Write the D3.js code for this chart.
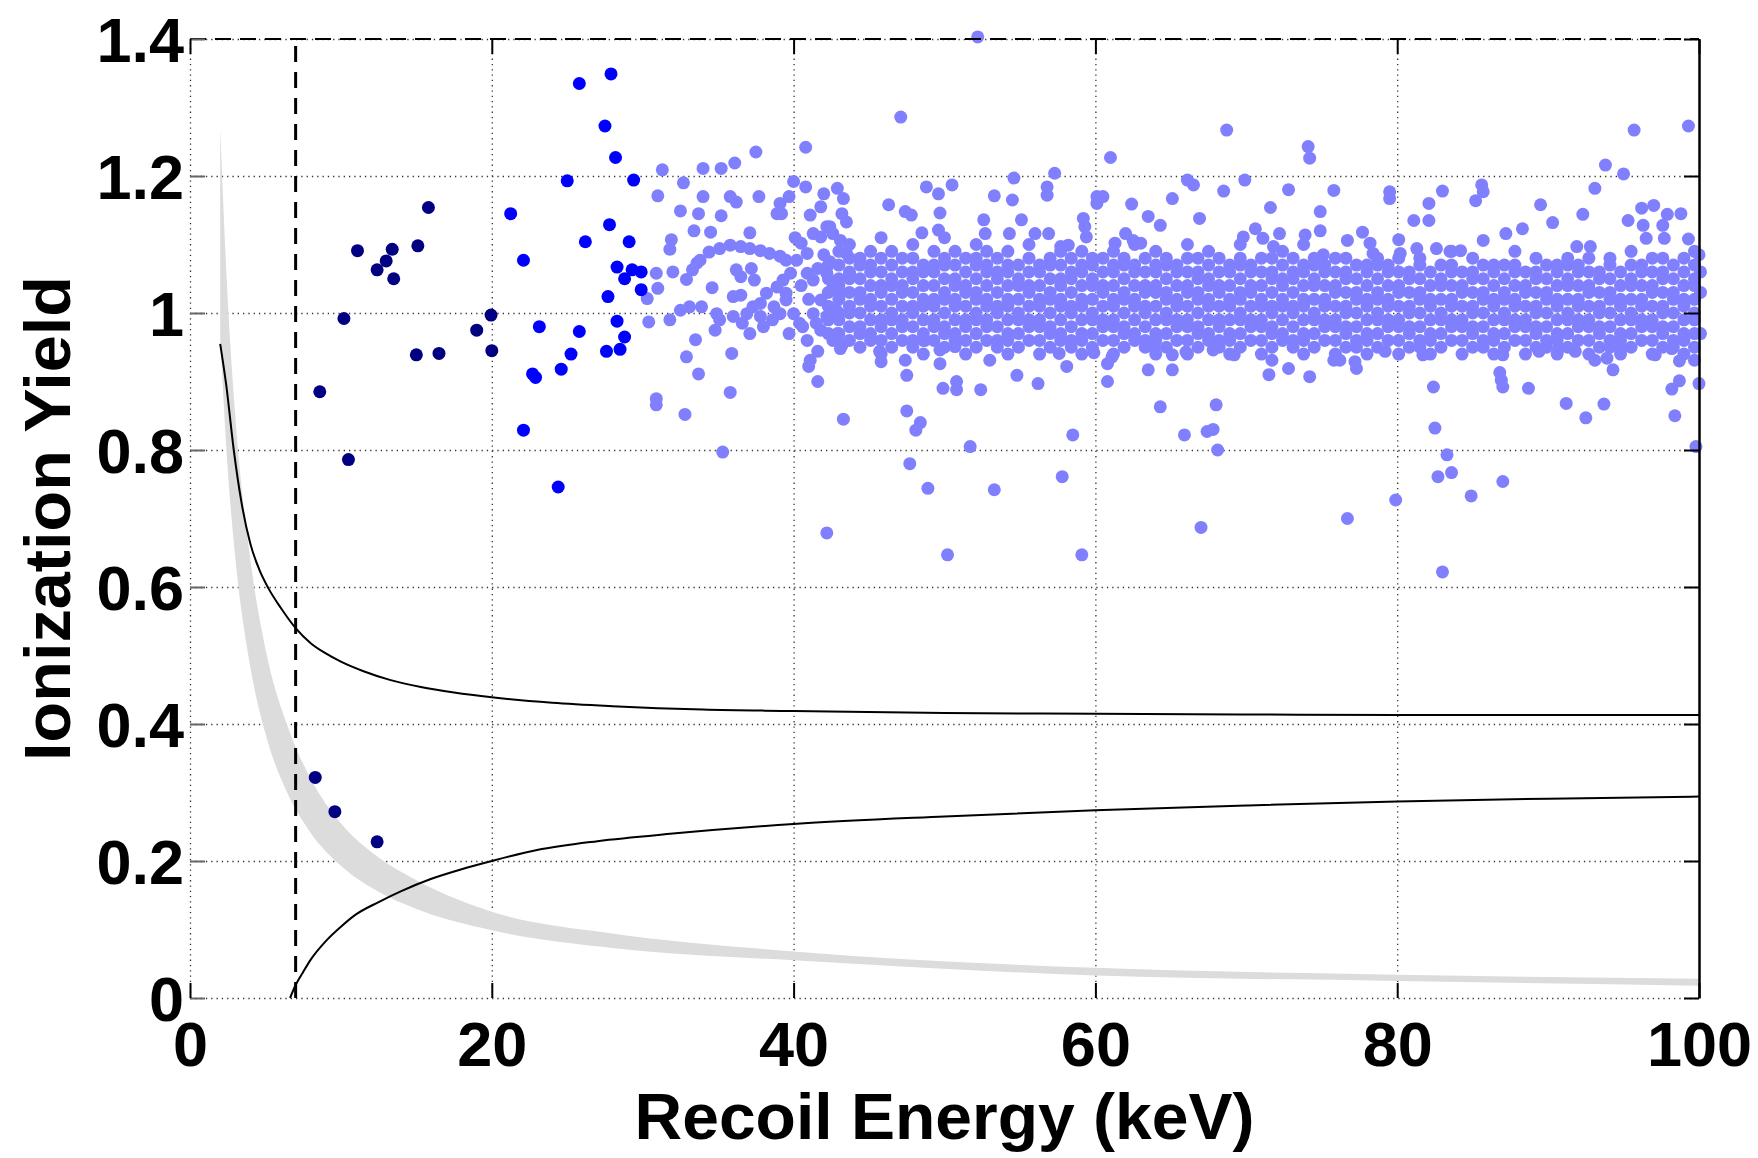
<html>
<head>
<script src="https://d3js.org/d3.v7.min.js"></script>
<style>
body { margin: 0; background: white; }
text { font-family: "Liberation Sans", Arial, Helvetica, sans-serif; font-weight: bold; }
</style>
</head>
<body>
<div id="chart"></div>
<script>

var xTicks = [0, 20, 40, 60, 80, 100]
var yTicks = [0, 0.2, 0.4, 0.6, 0.8, 1, 1.2, 1.4]
var yTickLabels = ['0', '0.2', '0.4', '0.6', '0.8', '1', '1.2', '1.4']
var thresholdE = 7.0

// events below 20 keV (dark) and 20-30 keV (blue), [energy, yield]
var navyPts = [
  [11.1,1.091],[13.4,1.093],[13.0,1.076],[12.4,1.063],[13.5,1.050],[15.1,1.098],[15.8,1.154],
  [10.2,0.992],[8.6,0.885],[10.5,0.786],[15.0,0.939],[16.5,0.941],[19.0,0.975],[19.95,0.997],
  [20.0,0.945],[8.3,0.322],[9.6,0.272],[12.4,0.228]
]
var bluePts = [
  [27.9,1.349],[25.8,1.335],[27.5,1.273],[28.2,1.227],[25.0,1.193],[29.4,1.194],[21.25,1.145],
  [27.8,1.129],[26.2,1.104],[29.1,1.104],[22.1,1.077],[28.3,1.067],[29.3,1.063],[29.9,1.060],
  [28.8,1.050],[29.9,1.034],[27.7,1.024],[28.3,0.988],[23.15,0.980],[25.8,0.973],[28.8,0.965],
  [28.5,0.947],[27.6,0.944],[25.25,0.940],[24.6,0.918],[22.7,0.911],[22.9,0.906],[22.1,0.829],
  [24.4,0.746]
]
// scattered events above 30 keV, [energy, yield]
var lightPts = [
  [47.1,1.286],[40.8,1.242],[37.5,1.235],[36.1,1.219],[35.2,1.211],[34.0,1.211],[31.3,1.209],
  [32.7,1.190],[31.0,1.171],[34.0,1.170],[35.8,1.170],[36.2,1.162],[37.7,1.170],[32.5,1.149],
  [33.7,1.145],[35.2,1.142],[33.4,1.120],[34.5,1.118],[37.1,1.117],[31.9,1.107],[31.8,1.093],
  [30.9,1.058],[32.0,1.060],[31.0,1.036],[30.3,1.021],[32.9,1.049],[34.6,1.037],[30.4,0.987],
  [31.8,0.990],[33.5,0.961],[32.9,0.936],[33.7,0.911],[35.9,0.941],[35.8,0.884],[30.9,0.875],
  [30.9,0.866],[32.8,0.852],[35.3,0.797],[39.7,0.970],[40.6,0.980],[41.0,0.922],[41.6,0.900],
  [43.3,0.845],[47.5,0.857],[48.4,0.840],[48.1,0.829],[47.7,0.780],[48.9,0.744],[42.2,0.679],
  [51.7,0.805],[49.9,0.890],[50.8,0.900],[50.8,0.888],[47.5,0.909],[47.4,0.931],[49.7,0.926],
  [49.7,0.946],[50.7,0.951],[48.7,0.960],[45.8,0.929],[45.7,0.944],[43.2,0.953],[41.6,0.944],
  [41.1,0.931],[48.8,1.184],[49.6,1.174],[50.5,1.187],[49.7,1.146],[46.3,1.158],[47.4,1.148],
  [47.8,1.143],[48.5,1.117],[49.6,1.121],[42.9,1.182],[43.3,1.167],[42.0,1.174],[40.0,1.192],
  [40.8,1.184],[39.7,1.170],[39.1,1.160],[39.2,1.145],[41.1,1.143],[41.8,1.155],[43.2,1.145],
  [42.4,1.126],[43.5,1.133],[33.8,1.077],[34.4,1.089],[35.1,1.094],[35.8,1.099],[36.5,1.097],
  [37.1,1.094],[37.8,1.091],[38.4,1.087],[39.1,1.083],[39.5,1.077],[33.3,1.063],[33.6,1.073],
  [36.2,1.063],[37.2,1.065],[37.4,1.048],[36.5,1.053],[36.0,1.024],[36.5,1.026],[37.3,1.009],
  [37.8,1.014],[38.2,1.029],[38.9,1.038],[39.3,1.048],[39.8,1.058],[39.5,1.029],[38.7,1.009],
  [39.1,0.999],[40.0,0.999],[39.5,1.019],[32.5,1.004],[33.1,1.009],[33.9,1.009],[34.9,0.999],
  [35.1,0.990],[36.0,0.995],[36.6,0.985],[37.1,0.970],[37.8,0.995],[38.0,0.980],[38.6,0.990],
  [36.9,0.999],[34.8,0.975],[38.9,1.145],[40.1,1.110],[40.5,1.102],[40.9,1.087],[41.3,1.116],
  [41.8,1.111],[42.2,1.126],[42.6,1.116],[43.1,1.106],[43.5,1.087],[43.7,1.058],[40.2,1.077],
  [40.9,1.058],[41.3,1.048],[41.8,1.019],[42.2,1.058],[42.6,1.038],[43.1,1.029],[41.3,0.999],
  [42.2,0.995],[42.9,0.970],[41.8,0.975],[42.6,0.960],[40.9,0.960],[43.1,0.948],[40.5,1.040],
  [41.0,1.020],[41.6,1.065],[42.0,1.085],[42.8,1.005],[40.4,0.985],[41.5,0.985],[42.4,1.075],
  [68.7,1.267],[74.1,1.243],[74.2,1.226],[61.0,1.227],[57.3,1.204],[54.6,1.197],[56.8,1.184],
  [56.8,1.172],[53.3,1.171],[54.5,1.165],[60.1,1.170],[60.5,1.170],[60.1,1.160],[62.4,1.159],
  [65.1,1.167],[66.1,1.194],[66.5,1.187],[68.5,1.178],[69.9,1.194],[72.8,1.180],[75.8,1.179],
  [71.6,1.154],[74.9,1.148],[66.9,1.138],[63.5,1.141],[64.3,1.128],[55.1,1.136],[52.6,1.136],
  [52.7,1.116],[59.2,1.138],[59.3,1.126],[59.4,1.111],[54.3,1.116],[56.0,1.116],[56.9,1.116],
  [57.7,1.097],[58.2,1.099],[61.3,1.102],[62.0,1.116],[62.5,1.106],[63.0,1.102],[70.6,1.123],
  [71.1,1.109],[71.8,1.097],[69.8,1.111],[73.9,1.114],[74.9,1.120],[75.1,1.085],[72.2,1.116],
  [53.0,0.931],[52.4,0.888],[54.8,0.909],[56.2,0.897],[57.6,0.941],[58.1,0.922],[59.9,0.942],
  [60.8,0.900],[61.1,0.936],[60.8,0.926],[63.5,0.917],[65.1,0.917],[65.1,0.939],[64.3,0.863],
  [68.0,0.866],[58.5,0.822],[65.9,0.822],[67.4,0.827],[67.8,0.830],[68.1,0.800],[57.8,0.761],
  [53.3,0.742],[67.0,0.687],[69.2,0.939],[71.5,0.910],[72.8,0.919],[74.2,0.907],[71.7,0.931],
  [75.8,0.931],[63.9,0.951],[66.0,0.943],[67.8,0.946],[59.1,0.647],[50.2,0.647],[83.0,0.622],
  [52.2,1.403],[95.7,1.267],[99.3,1.273],[93.8,1.216],[95.0,1.203],[93.1,1.182],[85.6,1.187],
  [85.7,1.177],[85.2,1.164],[83.0,1.178],[79.5,1.177],[79.5,1.167],[82.1,1.160],[82.1,1.135],
  [81.1,1.135],[89.5,1.158],[90.3,1.132],[92.3,1.144],[95.3,1.135],[96.2,1.153],[97.0,1.157],
  [97.9,1.144],[98.8,1.145],[96.3,1.128],[96.5,1.109],[97.6,1.128],[97.7,1.109],[99.3,1.108],
  [88.3,1.123],[87.2,1.116],[80.1,1.107],[77.7,1.118],[76.7,1.106],[78.2,1.102],[78.4,1.087],
  [81.3,1.094],[82.6,1.094],[83.5,1.090],[84.2,1.091],[85.7,1.106],[91.9,1.097],[92.8,1.097],
  [80.2,1.087],[76.2,0.931],[77.2,0.929],[77.3,0.919],[79.2,0.944],[81.7,0.939],[86.8,0.913],
  [86.9,0.902],[87.0,0.892],[82.4,0.892],[88.7,0.890],[91.2,0.868],[92.5,0.847],[93.7,0.867],
  [82.5,0.832],[83.3,0.793],[82.7,0.761],[83.6,0.767],[87.0,0.754],[84.9,0.733],[79.9,0.727],
  [76.7,0.700],[98.4,0.850],[98.2,0.889],[98.7,0.901],[100.0,0.897],[99.8,0.805],[93.1,0.931],
  [93.9,0.934],[94.3,0.917],[94.8,0.948],[97.1,0.939],[98.2,0.948],[98.7,0.930],[99.7,0.931],
  [89.4,0.944],[90.7,0.948],[91.8,0.944],[87.0,0.939],[100.1,1.060],[100.1,1.030],[100.1,0.970],
  [100.0,1.085]
]
// dense band above 42 keV: "energy: yields in hundredths"
var lightBand = [
  "42.3: 97 99 101 103 105 107", "43.0: 97 99 100 102 104 105 107 109",
  "43.7: 96 98 100 101 103 105 106 108 110",
  "44.4: 95 97 98 100 102 103 105 107 108", "45.1: 96 97 99 101 102 104 106 107 109",
  "45.8: 94 96 98 99 101 103 104 106 108 111", "46.5: 95 97 99 100 102 104 105 107 109",
  "47.2: 96 98 99 101 103 104 106 108", "47.9: 95 96 98 100 101 103 105 106 108 110",
  "48.6: 94 96 97 99 101 102 104 106 107", "49.3: 96 98 99 101 102 104 106 107 109",
  "50.0: 95 97 98 100 102 103 105 107 108 111", "50.7: 96 97 99 101 102 104 105 107 109",
  "51.4: 94 96 98 99 101 103 104 106 108", "52.1: 95 97 99 100 102 103 105 107 108 110",
  "52.8: 96 98 99 101 102 104 106 107 109", "53.5: 95 96 98 100 101 103 105 106 108",
  "54.2: 94 96 97 99 101 102 104 106 107 109", "54.9: 95 97 99 100 102 104 105 107",
  "55.6: 96 98 99 101 103 104 106 108 110", "56.3: 94 96 98 99 101 102 104 106 107",
  "57.0: 95 97 98 100 102 103 105 107 108", "57.7: 96 97 99 101 102 104 105 107 109",
  "58.4: 95 96 98 100 101 103 105 106 108", "59.1: 94 96 97 99 101 102 104 106 107 109",
  "59.8: 95 97 99 100 102 104 105 107 108", "60.5: 96 98 99 101 103 104 106 108",
  "61.2: 94 96 98 99 101 102 104 106 107 109", "61.9: 95 97 98 100 102 103 105 107 108",
  "62.6: 96 97 99 101 102 104 106 107 110", "63.3: 95 96 98 100 101 103 104 106 108",
  "64.0: 94 96 97 99 101 103 104 106 107 109", "64.7: 95 97 99 100 102 103 105 107 108",
  "65.4: 96 98 99 101 102 104 106 107", "66.1: 94 96 98 99 101 103 104 106 108 110",
  "66.8: 95 97 98 100 102 103 105 106 108", "67.5: 96 97 99 101 102 104 105 107 109",
  "68.2: 95 96 98 99 101 103 104 106 108", "68.9: 94 96 97 99 101 102 104 106 107",
  "69.6: 95 97 99 100 102 103 105 107 108 110", "70.3: 96 98 99 101 103 104 106 107",
  "71.0: 94 96 98 99 101 102 104 106 108", "71.7: 95 97 98 100 101 103 105 106 108",
  "72.4: 96 97 99 101 102 104 105 107 109", "73.1: 95 96 98 100 101 103 105 106 108",
  "73.8: 94 96 97 99 101 102 104 106 107 110", "74.5: 95 97 99 100 102 104 105 107 108",
  "75.2: 96 98 99 101 102 104 106 107", "75.9: 94 96 98 99 101 103 104 106 108",
  "76.6: 95 97 98 100 101 103 105 106 108", "77.3: 95 96 98 100 102 103 105 107",
  "78.0: 94 96 97 99 101 102 104 106 107", "78.7: 95 97 99 100 102 103 105 107 108",
  "79.4: 96 98 99 101 102 104 106 107", "80.1: 94 96 98 99 101 103 104 106 108",
  "80.8: 95 97 98 100 101 103 105 106", "81.5: 95 96 98 100 102 103 105 107 108",
  "82.2: 94 96 97 99 101 102 104 106", "82.9: 95 97 99 100 102 104 105 107",
  "83.6: 96 98 99 101 102 104 106 107 109", "84.3: 94 96 98 99 101 103 104 106",
  "85.0: 95 97 98 100 101 103 105 106 108", "85.7: 95 96 98 100 102 103 105 107",
  "86.4: 94 96 97 99 101 102 104 106 107", "87.1: 95 97 99 100 102 103 105 107",
  "87.8: 96 98 99 101 102 104 106 107 109", "88.5: 94 96 98 99 101 103 104 106",
  "89.2: 95 97 98 100 101 103 105 106 108", "89.9: 95 96 98 100 102 103 105 107",
  "90.6: 94 96 97 99 101 102 104 106 107", "91.3: 95 97 99 100 102 104 105 107 108",
  "92.0: 96 98 99 101 102 104 106 107", "92.7: 94 96 98 99 101 103 104 106 108",
  "93.4: 95 97 98 100 101 103 105 106", "94.1: 95 96 98 100 102 103 105 107 108",
  "94.8: 94 96 97 99 101 102 104 106", "95.5: 95 97 99 100 102 104 105 107 109",
  "96.2: 96 98 99 101 102 104 106 107", "96.9: 94 96 98 99 101 103 104 106 108",
  "97.6: 95 97 98 100 101 103 105 106 108", "98.3: 95 96 98 100 102 103 105 107",
  "99.0: 94 96 97 99 101 102 104 106 108", "99.7: 95 97 99 100 102 104 105 107 109"
]

// curves
var upperE = [2.0, 2.4, 2.9, 3.4, 4.0, 4.6, 5.2, 6.0, 7.0, 8.0, 9.0, 10, 11.5, 13.3, 15.3, 17.5, 20, 24, 28, 34, 40, 50, 60, 70, 80, 100]
var upperY = [0.955, 0.895, 0.80, 0.725, 0.663, 0.625, 0.598, 0.570, 0.540, 0.518, 0.503, 0.491, 0.477, 0.464, 0.454, 0.446, 0.439, 0.431, 0.426, 0.421, 0.419, 0.416, 0.415, 0.414, 0.413, 0.413]
var lowerE = [6.63, 7.0, 7.5, 8.0, 9.0, 10, 11, 12.5, 14, 16, 18, 20, 23, 27, 32, 40, 50, 60, 70, 80, 90, 100]
var lowerY = [0, 0.019, 0.038, 0.056, 0.083, 0.104, 0.122, 0.140, 0.156, 0.174, 0.188, 0.200, 0.216, 0.229, 0.240, 0.254, 0.265, 0.274, 0.281, 0.287, 0.291, 0.294]
var bandE = [2.0, 2.5, 3, 4, 5, 6.5, 8, 10, 12.5, 15, 20, 28, 40, 60, 80, 100]
var bandHi = [1.27, 1.02, 0.85, 0.64, 0.51, 0.395, 0.32, 0.255, 0.205, 0.172, 0.126, 0.094, 0.068, 0.044, 0.034, 0.028]
var bandLo = [0.965, 0.772, 0.643, 0.483, 0.386, 0.297, 0.241, 0.193, 0.155, 0.130, 0.099, 0.073, 0.055, 0.033, 0.025, 0.018]

var width = 1758
var height = 1158
var xs = d3.scaleLinear().domain([0, 100]).range([190, 1699])
var ys = d3.scaleLinear().domain([0, 1.4]).range([998, 39])
var plotW = xs(100) - xs(0)
var plotH = ys(0) - ys(1.4)

var svg = d3.select('#chart').append('svg')
    .attr('width', width)
    .attr('height', height)

function dotted(g) {
    g.select('.domain').remove()
    g.selectAll('line')
        .attr('stroke', '#333')
        .attr('stroke-width', 1.3)
        .attr('stroke-dasharray', '1.3,4')
}

// grid
svg.append('g')
    .attr('transform', 'translate(0,' + ys(0) + ')')
    .call(d3.axisBottom(xs).tickValues([0, 20, 40, 60, 80]).tickSize(-plotH).tickFormat(''))
    .call(dotted)
svg.append('g')
    .attr('transform', 'translate(' + xs(0) + ',0)')
    .call(d3.axisLeft(ys).tickValues(yTicks).tickSize(-plotW).tickFormat(''))
    .call(dotted)

// gray band and the two black curves
var band = bandE.map(function(e, i) { return [e, bandLo[i], bandHi[i]] })
svg.append('path')
    .datum(band)
    .attr('fill', '#dcdcdc')
    .attr('d', d3.area()
        .x(function(d) { return xs(d[0]) })
        .y0(function(d) { return ys(d[1]) })
        .y1(function(d) { return ys(d[2]) })
        .curve(d3.curveMonotoneX))

var line = d3.line()
    .x(function(d) { return xs(d[0]) })
    .y(function(d) { return ys(d[1]) })
    .curve(d3.curveMonotoneX)

svg.append('path')
    .datum(upperE.map(function(e, i) { return [e, upperY[i]] }))
    .attr('fill', 'none').attr('stroke', 'black').attr('stroke-width', 2)
    .attr('d', line)
svg.append('path')
    .datum(lowerE.map(function(e, i) { return [e, lowerY[i]] }))
    .attr('fill', 'none').attr('stroke', 'black').attr('stroke-width', 2)
    .attr('d', line)

// threshold
svg.append('line')
    .attr('x1', xs(thresholdE)).attr('x2', xs(thresholdE))
    .attr('y1', ys(0)).attr('y2', ys(1.4))
    .attr('stroke', 'black').attr('stroke-width', 3)
    .attr('stroke-dasharray', '16,10')

// points
var bandPts = []
lightBand.forEach(function(s) {
    var parts = s.split(':')
    var e = +parts[0]
    parts[1].trim().split(/\s+/).forEach(function(v) { bandPts.push([e, +v / 100]) })
})

function dots(data, color) {
    svg.append('g')
        .selectAll('circle')
        .data(data)
        .enter()
        .append('circle')
        .attr('cx', function(d) { return xs(d[0]) })
        .attr('cy', function(d) { return ys(d[1]) })
        .attr('r', 6.5)
        .attr('fill', color)
}
dots(bandPts.concat(lightPts), '#8080ff')
dots(bluePts, '#0000ff')
dots(navyPts, '#000080')

// box: dashed top, solid right, small inward ticks
svg.append('line')
    .attr('x1', xs(0)).attr('x2', xs(100))
    .attr('y1', ys(1.4)).attr('y2', ys(1.4))
    .attr('stroke', 'black').attr('stroke-width', 2)
    .attr('stroke-dasharray', '16,9')

svg.append('g')
    .attr('transform', 'translate(' + xs(100) + ',0)')
    .call(d3.axisRight(ys).tickValues(yTicks).tickSize(-15).tickSizeOuter(0).tickFormat(''))
    .call(function(g) {
        g.select('.domain').attr('stroke', 'black').attr('stroke-width', 2.5)
        g.selectAll('line').attr('stroke', 'black').attr('stroke-width', 2)
    })
svg.append('g')
    .attr('transform', 'translate(' + xs(0) + ',0)')
    .call(d3.axisLeft(ys).tickValues(yTicks).tickSize(-15).tickFormat(''))
    .call(function(g) {
        g.select('.domain').remove()
        g.selectAll('line').attr('stroke', '#666').attr('stroke-width', 2)
    })
svg.append('g')
    .attr('transform', 'translate(0,' + ys(0) + ')')
    .call(d3.axisBottom(xs).tickValues(xTicks).tickSize(-15).tickFormat(''))
    .call(function(g) {
        g.select('.domain').remove()
        g.selectAll('line').attr('stroke', 'black').attr('stroke-width', 2)
    })
svg.append('g')
    .attr('transform', 'translate(0,' + ys(1.4) + ')')
    .call(d3.axisTop(xs).tickValues(xTicks).tickSize(-15).tickFormat(''))
    .call(function(g) {
        g.select('.domain').remove()
        g.selectAll('line').attr('stroke', 'black').attr('stroke-width', 2)
    })

// tick labels
svg.append('g')
    .attr('transform', 'translate(0,' + ys(0) + ')')
    .call(d3.axisBottom(xs).tickValues(xTicks).tickSize(0).tickPadding(23).tickFormat(d3.format('d')))
    .call(function(g) {
        g.select('.domain').remove()
        g.attr('font-size', 63).attr('font-family', null)
        g.selectAll('text').attr('fill', 'black')
    })
svg.append('g')
    .attr('transform', 'translate(' + xs(0) + ',0)')
    .call(d3.axisLeft(ys).tickValues(yTicks).tickSize(0).tickPadding(6)
        .tickFormat(function(d, i) { return yTickLabels[i] }))
    .call(function(g) {
        g.select('.domain').remove()
        g.attr('font-size', 63).attr('font-family', null)
        g.selectAll('text').attr('fill', 'black').attr('dy', '0.36em')
    })

// axis titles
svg.append('text')
    .attr('x', (xs(0) + xs(100)) / 2)
    .attr('y', 1139)
    .attr('text-anchor', 'middle')
    .attr('font-size', 64)
    .attr('textLength', 620)
    .attr('lengthAdjust', 'spacingAndGlyphs')
    .text('Recoil Energy (keV)')

svg.append('text')
    .attr('transform', 'translate(70,' + (ys(0) + ys(1.4)) / 2 + ') rotate(-90)')
    .attr('text-anchor', 'middle')
    .attr('font-size', 64)
    .attr('textLength', 485)
    .attr('lengthAdjust', 'spacingAndGlyphs')
    .text('Ionization Yield')

</script>
</body>
</html>
